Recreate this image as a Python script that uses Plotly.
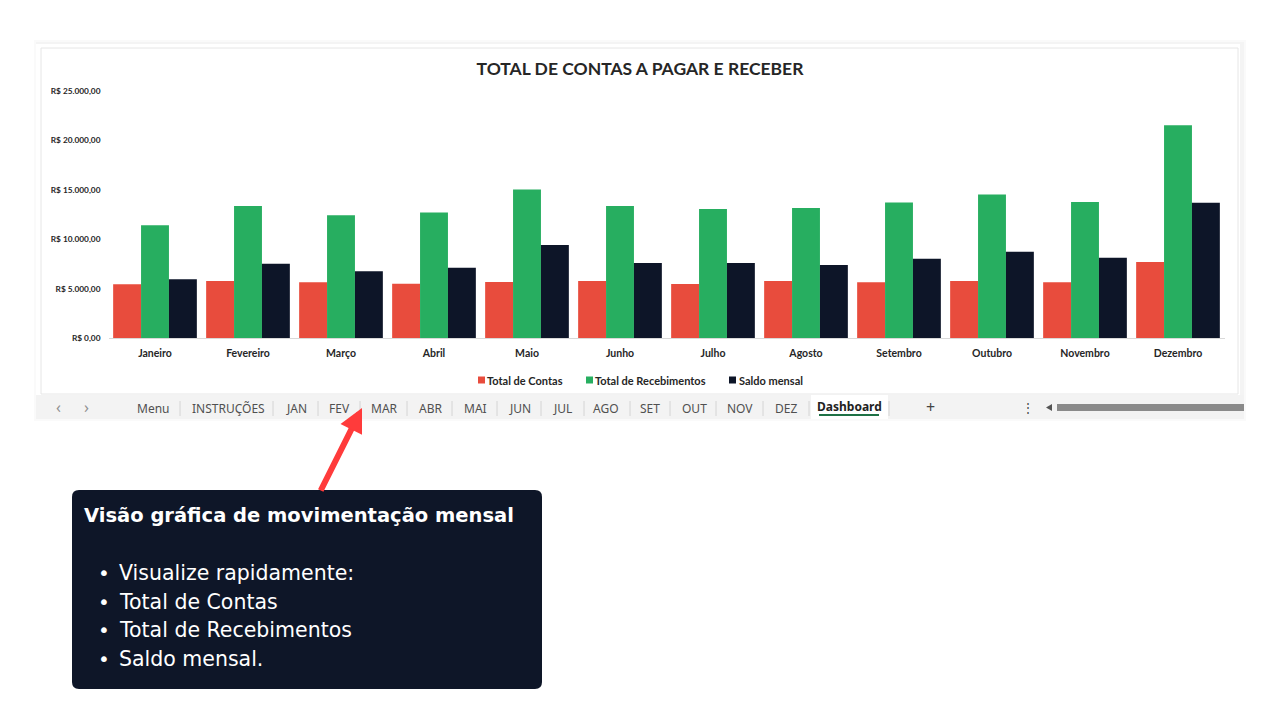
import plotly.graph_objects as go

W, H = 1280, 720

meses = ["Janeiro", "Fevereiro", "Março", "Abril", "Maio", "Junho", "Julho",
         "Agosto", "Setembro", "Outubro", "Novembro", "Dezembro"]
total_contas = [5450, 5770, 5640, 5500, 5670, 5770, 5470, 5770, 5640, 5770, 5640, 7690]
total_recebimentos = [11420, 13370, 12420, 12690, 15020, 13370, 13060, 13160, 13720, 14520, 13770, 21530]
saldo_mensal = [5950, 7520, 6750, 7120, 9410, 7600, 7600, 7390, 8030, 8740, 8130, 13700]

series_nomes = ["Total de Contas", "Total de Recebimentos", "Saldo mensal"]

y_ticks = [0, 5000, 10000, 15000, 20000, 25000]
y_tick_labels = ["R$ 0,00", "R$ 5.000,00", "R$ 10.000,00", "R$ 15.000,00", "R$ 20.000,00", "R$ 25.000,00"]

abas = ["Menu", "INSTRUÇÕES", "JAN", "FEV", "MAR", "ABR", "MAI", "JUN", "JUL",
        "AGO", "SET", "OUT", "NOV", "DEZ"]
aba_x = [153, 228, 296, 339, 384, 430, 475, 520, 562, 606, 650, 694, 740, 786]
separadores = [180, 273, 318, 360, 407, 452, 497, 541, 584, 630, 670, 716, 763, 809, 889]

caixa_titulo = "Visão gráfica de movimentação mensal"
caixa_itens = ["Visualize rapidamente:", "Total de Contas", "Total de Recebimentos", "Saldo mensal."]

RED, GREEN, NAVY = "#e84c3d", "#27ae60", "#0d1528"
cores = [RED, GREEN, NAVY]


def px(x):
    return x / W


def py(y):
    return 1 - y / H


fig = go.Figure()
for name, vals, col in zip(series_nomes, [total_contas, total_recebimentos, saldo_mensal], cores):
    fig.add_trace(go.Bar(x=meses, y=vals, name=name, marker=dict(color=col, line=dict(width=0)),
                         showlegend=False))

shapes = []
# panel
shapes.append(dict(type="rect", xref="paper", yref="paper", x0=px(34), x1=px(1246), y0=py(421), y1=py(40),
                   fillcolor="rgba(0,0,0,0.018)", line=dict(width=0), layer="below"))
shapes.append(dict(type="rect", xref="paper", yref="paper", x0=px(36), x1=px(1244), y0=py(419), y1=py(42),
                   fillcolor="#f4f4f4", line=dict(width=0), layer="below"))
shapes.append(dict(type="rect", xref="paper", yref="paper", x0=px(36), x1=px(1240), y0=py(395), y1=py(44),
                   fillcolor="#ffffff", line=dict(width=0), layer="below"))
shapes.append(dict(type="rect", xref="paper", yref="paper", x0=px(41), x1=px(1238), y0=py(394), y1=py(48),
                   fillcolor="#ffffff", line=dict(color="#e6e6e6", width=1), layer="below"))
# tab bar
shapes.append(dict(type="rect", xref="paper", yref="paper", x0=px(36), x1=px(1244), y0=py(419), y1=py(395),
                   fillcolor="#f3f3f3", line=dict(width=0), layer="below"))
shapes.append(dict(type="rect", xref="paper", yref="paper", x0=px(811), x1=px(888), y0=py(419), y1=py(395),
                   fillcolor="#ffffff", line=dict(width=0), layer="below"))
shapes.append(dict(type="line", xref="paper", yref="paper", x0=px(819), x1=px(879), y0=py(415), y1=py(415),
                   line=dict(color="#1e7145", width=2)))
for sx in separadores:
    shapes.append(dict(type="line", xref="paper", yref="paper", x0=px(sx), x1=px(sx), y0=py(401), y1=py(416),
                       line=dict(color="#d4d4d4", width=1)))
# scrollbar
shapes.append(dict(type="rect", xref="paper", yref="paper", x0=px(1057), x1=px(1244), y0=py(411), y1=py(404),
                   fillcolor="#8a8a8a", line=dict(width=0)))
shapes.append(dict(type="path", xref="paper", yref="paper",
                   path=f"M {px(1046)},{py(407.5)} L {px(1052)},{py(404)} L {px(1052)},{py(411)} Z",
                   fillcolor="#555555", line=dict(width=0)))
# legend squares
leg_sq_x = [478, 586, 729]
leg_txt_x = [485, 593, 737]
for sx, col in zip(leg_sq_x, cores):
    shapes.append(dict(type="rect", xref="paper", yref="paper", x0=px(sx), x1=px(sx + 7),
                       y0=py(383.5), y1=py(376.5), fillcolor=col, line=dict(width=0)))
# annotation box (rounded)
x0, x1, y0, y1, r = 72, 542, 490, 689, 7
path = (f"M {px(x0 + r)},{py(y0)} L {px(x1 - r)},{py(y0)} Q {px(x1)},{py(y0)} {px(x1)},{py(y0 + r)} "
        f"L {px(x1)},{py(y1 - r)} Q {px(x1)},{py(y1)} {px(x1 - r)},{py(y1)} "
        f"L {px(x0 + r)},{py(y1)} Q {px(x0)},{py(y1)} {px(x0)},{py(y1 - r)} "
        f"L {px(x0)},{py(y0 + r)} Q {px(x0)},{py(y0)} {px(x0 + r)},{py(y0)} Z")
shapes.append(dict(type="path", xref="paper", yref="paper", path=path, fillcolor="#0e1628",
                   line=dict(width=0)))

annotations = []
for t, tx in zip(series_nomes, leg_txt_x):
    annotations.append(dict(text="<b>" + t + "</b>", x=px(tx), y=py(380), xref="paper", yref="paper",
                            showarrow=False, xanchor="left", yanchor="middle",
                            font=dict(family="Lato", size=11, color="#262626")))
tabfont = dict(family="Noto Sans", size=12, color="#505050")
for t, x in zip(abas, aba_x):
    annotations.append(dict(text=t, x=px(x), y=py(408), xref="paper", yref="paper", showarrow=False,
                            xanchor="center", yanchor="middle", font=tabfont))
annotations.append(dict(text="<b>Dashboard</b>", x=px(849), y=py(406), xref="paper", yref="paper",
                        showarrow=False, xanchor="center", yanchor="middle",
                        font=dict(family="Noto Sans", size=12, color="#222222")))
for t, x, s in [("‹", 58, 16), ("›", 86, 16), ("+", 930, 16), ("⋮", 1028, 12)]:
    annotations.append(dict(text=t, x=px(x), y=py(407), xref="paper", yref="paper", showarrow=False,
                            xanchor="center", yanchor="middle",
                            font=dict(family="Noto Sans", size=s, color="#909090" if x < 100 else "#444444")))
# arrow
annotations.append(dict(text="", x=px(362), y=py(408), xref="paper", yref="paper", showarrow=True,
                        ax=-42, ay=84, arrowcolor="#ff3b3b", arrowwidth=6, arrowhead=2, arrowsize=0.8))
# box text
annotations.append(dict(text="<b>" + caixa_titulo + "</b>", x=px(82), y=py(515), xref="paper", yref="paper",
                        showarrow=False, xanchor="left", yanchor="middle",
                        font=dict(family="DejaVu Sans", size=19.5, color="#ffffff")))
for i, t in enumerate(caixa_itens):
    yy = 573 + i * 28.7
    annotations.append(dict(text="•", x=px(96), y=py(yy), xref="paper", yref="paper", showarrow=False,
                            xanchor="left", yanchor="middle", font=dict(family="DejaVu Sans", size=20, color="#ffffff")))
    annotations.append(dict(text=t, x=px(117), y=py(yy), xref="paper", yref="paper", showarrow=False,
                            xanchor="left", yanchor="middle", font=dict(family="DejaVu Sans", size=20.5, color="#ffffff")))

fig.update_layout(
    width=W, height=H, margin=dict(l=0, r=0, t=0, b=0, pad=0, autoexpand=False),
    paper_bgcolor="#ffffff", plot_bgcolor="rgba(0,0,0,0)",
    barmode="group", bargap=0.1, bargroupgap=0, showlegend=False,
    title=dict(text="<b>TOTAL DE CONTAS A PAGAR E RECEBER</b>", x=0.5, xanchor="center",
               y=py(69), yanchor="middle", font=dict(family="Lato", size=17.5, color="#262626")),
    xaxis=dict(domain=[px(108.5), px(1224.5)], range=[-0.5, 11.5], showgrid=False,
               showline=True, linecolor="#d9d9d9", linewidth=1, ticks="", automargin=False,
               tickvals=meses, ticktext=["<b>" + m + "</b>" for m in meses],
               tickfont=dict(family="Lato", size=10.5, color="#262626"), ticklabelstandoff=5,
               fixedrange=True),
    yaxis=dict(domain=[py(338), py(91)], range=[0, 25000], showgrid=False, zeroline=False,
               showline=False, ticks="", automargin=False,
               tickvals=y_ticks, ticktext=["<b>" + t + "</b>" for t in y_tick_labels],
               tickfont=dict(family="Lato", size=8.3, color="#262626"), ticklabelstandoff=7),
    shapes=shapes, annotations=annotations,
)
fig.write_html("out.html")
